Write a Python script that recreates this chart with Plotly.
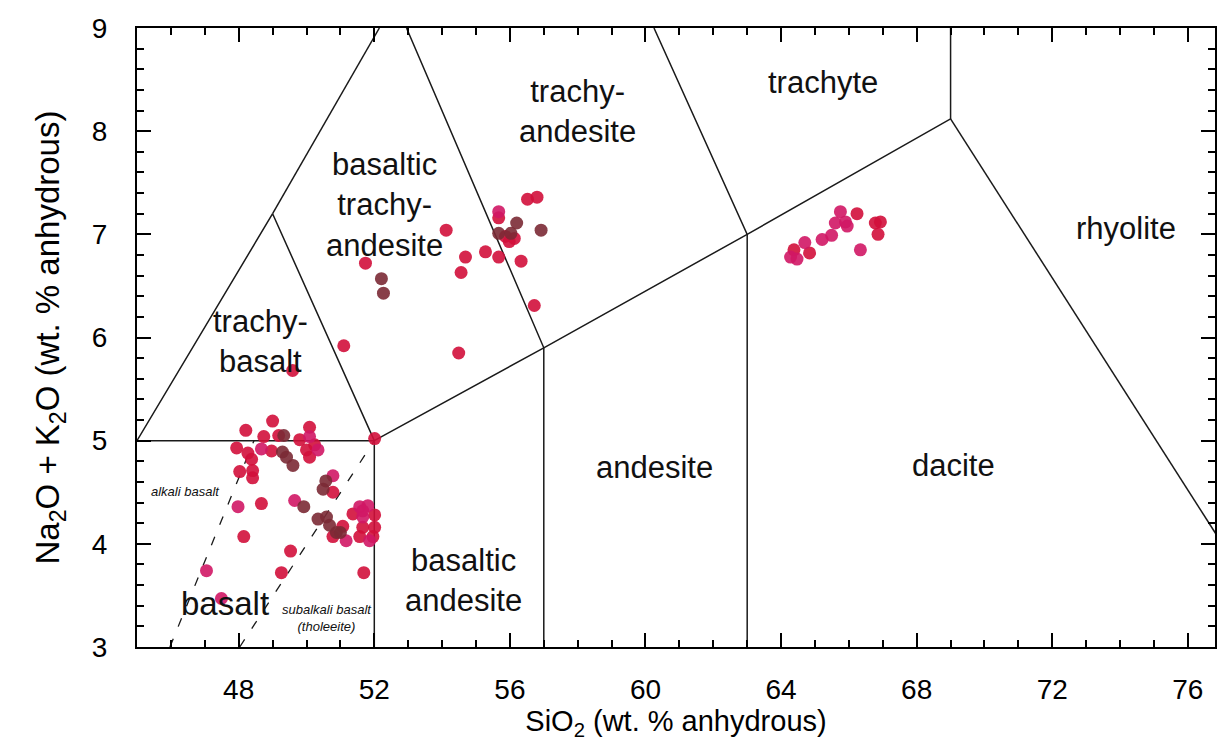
import plotly.graph_objects as go

# ---------------- data ----------------
# red samples
red_sio2 = [48.21, 49.00, 48.74, 49.18, 50.09, 49.80, 47.94, 48.27, 48.38, 48.97,
            50.00, 50.09, 50.24, 48.03, 48.41, 48.41, 52.01, 50.78, 48.67, 51.07,
            50.78, 51.37, 52.01, 52.01, 51.66, 51.57, 51.96, 48.15, 49.53, 49.26,
            51.69, 49.59,
            54.12, 51.74, 51.10, 54.49, 54.69, 54.56, 55.28, 55.67, 56.33, 56.72,
            56.52, 56.80, 55.67, 55.87, 55.98, 56.13,
            66.24, 66.78, 66.93, 66.86, 64.84, 64.38]
red_total = [5.10, 5.19, 5.04, 5.05, 5.13, 5.01, 4.93, 4.88, 4.82, 4.90,
             4.91, 4.84, 4.96, 4.70, 4.71, 4.64, 5.02, 4.50, 4.39, 4.17,
             4.07, 4.29, 4.28, 4.16, 4.16, 4.07, 4.07, 4.07, 3.93, 3.72,
             3.72, 5.68,
             7.04, 6.72, 5.92, 5.85, 6.78, 6.63, 6.83, 6.78, 6.74, 6.31,
             7.34, 7.36, 7.16, 6.98, 6.93, 6.96,
             7.20, 7.11, 7.12, 7.00, 6.82, 6.85]

# pink / magenta samples
pink_sio2 = [50.09, 48.67, 50.34, 50.78, 47.98, 49.65, 51.17, 51.57, 51.81, 51.66,
             51.86, 51.66, 47.05, 47.49,
             55.67,
             65.75, 65.60, 65.90, 65.95, 66.34, 65.49, 65.21, 64.70, 64.28, 64.47]
pink_total = [5.04, 4.92, 4.91, 4.66, 4.36, 4.42, 4.03, 4.36, 4.37, 4.26,
              4.03, 4.32, 3.74, 3.47,
              7.22,
              7.22, 7.11, 7.12, 7.08, 6.85, 6.99, 6.95, 6.92, 6.78, 6.76]

# dark brown samples
dark_sio2 = [49.33, 49.29, 49.41, 49.60, 50.57, 50.49, 49.92, 50.34, 50.59, 50.68,
             50.88, 51.00,
             52.21, 52.27, 56.20, 56.92, 55.67, 56.03]
dark_total = [5.05, 4.89, 4.84, 4.76, 4.61, 4.53, 4.36, 4.24, 4.26, 4.18,
              4.11, 4.11,
              6.57, 6.43, 7.11, 7.04, 7.01, 7.01]

# TAS field boundaries (solid)
boundaries = [
    ([45.0, 52.0, 52.0], [5.0, 5.0, 3.0]),
    ([45.0, 49.0, 52.0], [5.0, 7.2, 5.0]),
    ([49.0, 52.15], [7.2, 9.0]),
    ([52.95, 57.0, 57.0], [9.0, 5.9, 3.0]),
    ([60.25, 63.0, 63.0], [9.0, 7.0, 3.0]),
    ([52.0, 57.0, 63.0, 69.0, 69.0], [5.0, 5.9, 7.0, 8.12, 9.0]),
    ([69.0, 77.5], [8.12, 3.75]),
]
# alkali / subalkali divisions (dashed)
dashed = [
    ([45.97, 48.45], [3.0, 5.0]),
    ([48.03, 52.0], [3.0, 5.0]),
]

field_names = ["trachyte", "trachy-<br>andesite", "basaltic<br>trachy-<br>andesite",
               "trachy-<br>basalt", "rhyolite", "andesite", "dacite",
               "basaltic<br>andesite", "basalt"]
field_x = [65.24, 57.98, 52.29, 48.64, 74.16, 60.26, 69.09, 54.63, 47.61]
field_y = [8.47, 8.19, 7.28, 5.96, 7.06, 4.74, 4.76, 3.64, 3.42]

small_names = ["alkali basalt", "subalkali basalt<br>(tholeeite)"]
small_x = [46.42, 50.6]
small_y = [4.51, 3.28]

# ---------------- figure ----------------
fig = go.Figure()

for bx, by in boundaries:
    fig.add_trace(go.Scatter(x=bx, y=by, mode="lines",
                             line=dict(color="#1a1a1a", width=1.5),
                             hoverinfo="skip", showlegend=False))
for bx, by in dashed:
    fig.add_trace(go.Scatter(x=bx, y=by, mode="lines",
                             line=dict(color="#1a1a1a", width=1.3, dash="9px,13px"),
                             hoverinfo="skip", showlegend=False))

marker_common = dict(size=13, opacity=0.9, line=dict(width=0))
fig.add_trace(go.Scatter(x=red_sio2, y=red_total, mode="markers", showlegend=False,
                         marker=dict(color="#d1103b", **marker_common)))
fig.add_trace(go.Scatter(x=pink_sio2, y=pink_total, mode="markers", showlegend=False,
                         marker=dict(color="#d01765", **marker_common)))
fig.add_trace(go.Scatter(x=dark_sio2, y=dark_total, mode="markers", showlegend=False,
                         marker=dict(color="#7b2a35", **marker_common)))

for name, tx, ty in zip(field_names, field_x, field_y):
    fig.add_annotation(x=tx, y=ty, text=name, showarrow=False,
                       font=dict(family="Liberation Sans, Arial", size=33 if name == "basalt" else 31,
                                 color="#111"))
for name, tx, ty in zip(small_names, small_x, small_y):
    fig.add_annotation(x=tx, y=ty, text="<i>" + name + "</i>", showarrow=False,
                       font=dict(family="Liberation Sans, Arial", size=13, color="#111"))

axis_common = dict(
    showgrid=False, zeroline=False, showline=True, linecolor="black", linewidth=2,
    mirror="ticks", ticks="inside", ticklen=14, tickwidth=2, tickcolor="black",
    tickfont=dict(family="Liberation Sans, Arial", size=28, color="black"),
)
fig.update_xaxes(range=[45, 76.8], tick0=48, dtick=4, ticklabelstandoff=16,
                 minor=dict(dtick=1, ticks="inside", ticklen=7, tickwidth=1.5, tickcolor="black"),
                 title=dict(text="SiO<sub>2</sub> (wt. % anhydrous)",
                            font=dict(family="Liberation Sans, Arial", size=29, color="black"),
                            standoff=5),
                 **axis_common)
fig.update_yaxes(range=[3, 9], tick0=3, dtick=1, ticklabelstandoff=22,
                 minor=dict(dtick=0.2, ticks="inside", ticklen=7, tickwidth=1.5, tickcolor="black"),
                 title=dict(text="Na<sub>2</sub>O + K<sub>2</sub>O (wt. % anhydrous)",
                            font=dict(family="Liberation Sans, Arial", size=33, color="black"),
                            standoff=22),
                 **axis_common)

fig.update_layout(
    width=1218, height=743,
    margin=dict(l=137, r=1, t=28, b=96),
    plot_bgcolor="white", paper_bgcolor="white",
    showlegend=False,
)

fig.write_html("out.html")
